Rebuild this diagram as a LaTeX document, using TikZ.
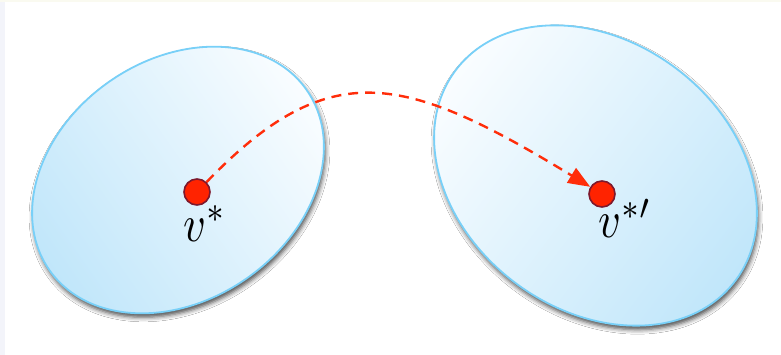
\documentclass[tikz,border=0pt]{standalone}
\usetikzlibrary{arrows.meta,shadows.blur}
\definecolor{setedge}{RGB}{120,208,248}
\definecolor{setdeep}{RGB}{192,230,250}
\definecolor{setpale}{RGB}{250,253,255}
\definecolor{dotfill}{RGB}{255,35,0}
\definecolor{dotedge}{RGB}{125,25,45}
\definecolor{moveline}{RGB}{255,45,10}
\definecolor{stripcream}{RGB}{250,250,240}
\definecolor{striplav}{RGB}{243,244,250}
\begin{document}
\begin{tikzpicture}[x=1pt,y=-1pt,
  setshape/.style={draw=setedge, line width=1.8pt,
    blur shadow={shadow xshift=1.5pt, shadow yshift=-4pt,
                 shadow blur radius=4.5pt, shadow opacity=70}},
  vertex/.style={circle, fill=dotfill, draw=dotedge, line width=1.6pt,
                 minimum size=26pt, inner sep=0pt},
  vlabel/.style={inner sep=0pt},
  move/.style={draw=moveline, line width=2.4pt, dash pattern=on 10pt off 7pt,
               -{Triangle[length=22pt,width=17pt]}}]
\useasboundingbox (0,0) rectangle (781,355);
% page background with thin edge strips
\fill[white] (0,0) rectangle (781,355);
\fill[striplav] (0,0) rectangle (5,355);
\fill[stripcream] (0,0) rectangle (781,2);

% the two sets, shaded along their long axes
\begin{scope}[shift={(178,180)}, rotate=35]
  \path[setshape, left color=setdeep, right color=setpale, shading angle=125]
    (0,0) ellipse [x radius=157pt, y radius=120pt];
\end{scope}
\begin{scope}[shift={(595.5,175.5)}, rotate=-37]
  \path[setshape, left color=setpale, right color=setdeep, shading angle=53]
    (0,0) ellipse [x radius=175pt, y radius=134pt];
\end{scope}

% vertices and labels
\node[vertex] (u) at (197,192) {};
\node[vertex] (w) at (602,194) {};
\node[vlabel, anchor=base west] (ul) at (183,241) {\scalebox{4.4}[5.2]{$v^{*}$}};
\node[vlabel, anchor=base west] (wl) at (598,238) {\scalebox{4.4}[5.2]{$v^{*\prime}$}};

% the move from one set to the other
\coordinate (c1) at (330,54);
\coordinate (c2) at (405,74);
\draw[move] (u) .. controls (c1) and (c2) .. (w);
\end{tikzpicture}
\end{document}
